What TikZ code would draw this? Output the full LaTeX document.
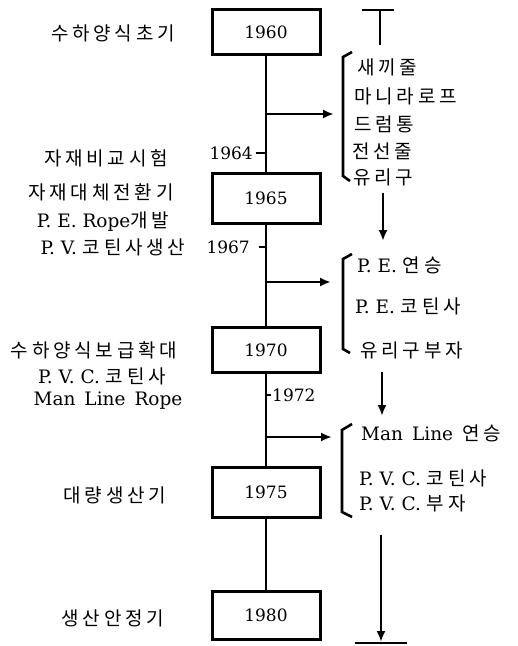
\documentclass[tikz,border=0pt]{standalone}
\usepackage{fontspec}
\setmainfont{DejaVu Serif}
\newfontfamily\kofont[LetterSpace=20]{Noto Sans CJK KR}
\usetikzlibrary{arrows.meta}
\newcommand\ko[1]{{\kofont\fontsize{19}{22}\selectfont #1}}
\begin{document}
\begin{tikzpicture}[x=1pt,y=-1pt,
  yearbox/.style={draw,line width=3pt,minimum width=108pt,minimum height=45pt,inner sep=0pt,font=\fontsize{17}{20}\selectfont},
  yr/.style={inner sep=0pt,font=\fontsize{17}{20}\selectfont},
  lbl/.style={inner sep=0pt,font=\fontsize{18.5}{22}\selectfont},
  trunk/.style={line width=2.8pt},
  arr/.style={line width=2.6pt,-{Latex[length=11pt,width=9pt]}},
  brk/.style={line width=2.6pt}]
\useasboundingbox (0,0) rectangle (518,646);

% year boxes
\node[yearbox] (b60) at (266,32) {1960};
\node[yearbox,minimum height=50pt] (b65) at (266,198) {1965};
\node[yearbox] (b70) at (266,350) {1970};
\node[yearbox,minimum height=50pt] (b75) at (266,492) {1975};
\node[yearbox,minimum height=48pt] (b80) at (266,615) {1980};

% trunk
\draw[trunk] (b60.south) -- (b65.north);
\draw[trunk] (b65.south) -- (b70.north);
\draw[trunk] (b70.south) -- (b75.north);
\draw[trunk] (b75.south) -- (b80.north);

% branch points and ticks
\coordinate (j1) at (266,114);
\coordinate (j2) at (266,282);
\coordinate (j3) at (266,437);
\coordinate (t64) at (266,153);
\coordinate (t67) at (266,247);
\coordinate (t72) at (266,395);
\coordinate (t64e) at (256,153);
\coordinate (t67e) at (259,247);
\coordinate (t72e) at (271,395);
\draw[trunk] (t64) -- (t64e);
\draw[trunk] (t67) -- (t67e);
\draw[trunk] (t72) -- (t72e);
\node[yr,anchor=east] (y64) at (253,153) {1964};
\node[yr,anchor=east] (y67) at (250,247) {1967};
\node[yr,anchor=west] (y72) at (272,395) {1972};

% right arrows
\coordinate (r1) at (334,114);
\coordinate (r2) at (331,282);
\coordinate (r3) at (332,437);
\draw[arr] (j1) -- (r1);
\draw[arr] (j2) -- (r2);
\draw[arr] (j3) -- (r3);

% left labels
\node[lbl] (l1) at (113,33) {\ko{수하양식초기}};
\node[lbl] (l2) at (106,158) {\ko{자재비교시험}};
\node[lbl] (l3) at (101,192) {\ko{자재대체전환기}};
\node[lbl] (l4) at (103,222) {P.\ E.\ Rope\ko{개발}};
\node[lbl] (l5) at (113,247) {P.\ V.\ \ko{코틴사생산}};
\node[lbl] (l6) at (94,350) {\ko{수하양식보급확대}};
\node[lbl] (l7) at (102,376) {P.\ V.\ C.\ \ko{코틴사}};
\node[lbl] (l8) at (108,401) {Man\hspace{9pt}Line\hspace{9pt}Rope};
\node[lbl] (l9) at (115,495) {\ko{대량생산기}};
\node[lbl] (l10) at (113,618) {\ko{생산안정기}};

% right column: top T
\coordinate (tl) at (362,10);
\coordinate (tr) at (394,10);
\coordinate (tt) at (380,10);
\coordinate (tb) at (380,45);
\draw[line width=1.6pt] (tl) -- (tr);
\draw[trunk] (tt) -- (tb);

% bracket 1
\draw[brk] (352,52) -- (343,57) -- (343,176) -- (350,181);
\node[lbl,anchor=west] (m1) at (357,67) {\ko{새끼줄}};
\node[lbl,anchor=west] (m2) at (354,96) {\ko{마니라로프}};
\node[lbl,anchor=west] (m3) at (354,124) {\ko{드럼통}};
\node[lbl,anchor=west] (m4) at (352,151) {\ko{전선줄}};
\node[lbl,anchor=west] (m5) at (353,177) {\ko{유리구}};

% down arrow 1
\coordinate (d1s) at (383,193);
\coordinate (d1e) at (383,241);
\draw[arr] (d1s) -- (d1e);

% bracket 2
\draw[brk] (352,254) -- (343,259) -- (343,349) -- (350,353);
\node[lbl,anchor=west] (n1) at (357,265) {P.\ E.\ \ko{연승}};
\node[lbl,anchor=west] (n2) at (355,306) {P.\ E.\ \ko{코틴사}};
\node[lbl,anchor=west] (n3) at (360,350) {\ko{유리구부자}};

% down arrow 2
\coordinate (d2s) at (382,372);
\coordinate (d2e) at (382,416);
\draw[arr] (d2s) -- (d2e);

% bracket 3
\draw[brk] (352,424) -- (342,430) -- (342,512) -- (352,517);
\node[lbl,anchor=west] (p1) at (361,433) {Man\hspace{9pt}Line\hspace{9pt}\ko{연승}};
\node[lbl,anchor=west] (p2) at (359,478) {P.\ V.\ C.\ \ko{코틴사}};
\node[lbl,anchor=west] (p3) at (359,503) {P.\ V.\ C.\ \ko{부자}};

% bottom arrow to bar
\coordinate (d3s) at (381,535);
\coordinate (d3e) at (381,642);
\coordinate (bl) at (355,643);
\coordinate (br) at (407,643);
\draw[arr] (d3s) -- (d3e);
\draw[line width=1.8pt] (bl) -- (br);
\end{tikzpicture}
\end{document}
